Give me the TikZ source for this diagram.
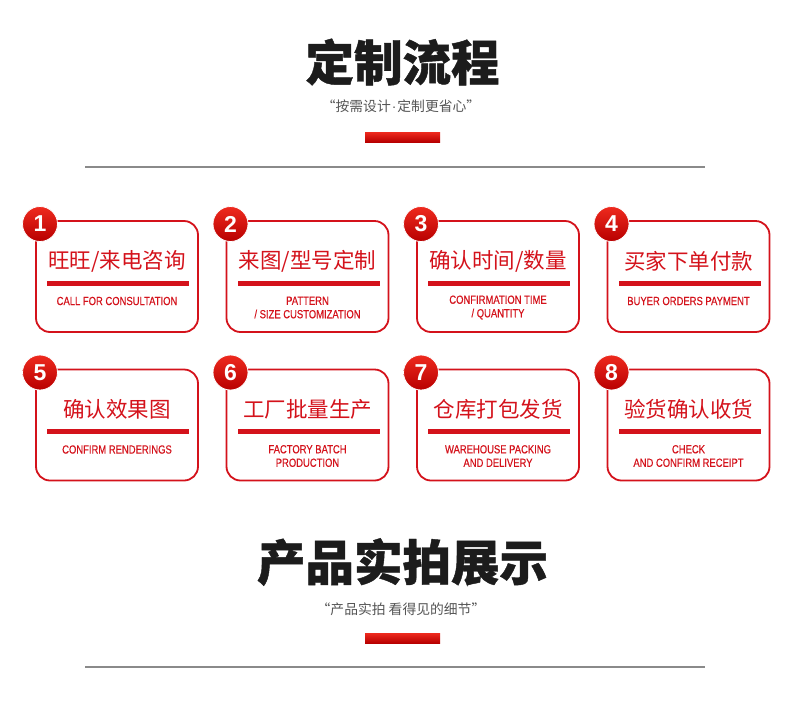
\documentclass[tikz,border=0pt]{standalone}
\usepackage{fontspec}
\newfontfamily\cjk{Noto Sans CJK SC}
\newfontfamily\cjkheavy[BoldFeatures={FakeBold=0.9}]{Noto Sans CJK SC}
\newfontfamily\enfont[FakeStretch=0.8,FakeBold=0.35]{Liberation Sans}
\newfontfamily\numfont{Liberation Sans}
\definecolor{cred}{HTML}{D4121B}
\definecolor{credlight}{HTML}{EE2A1E}
\definecolor{creddark}{HTML}{B80000}
\definecolor{titlegray}{HTML}{1C1C1C}
\definecolor{subgray}{HTML}{555555}
\definecolor{rulegray}{HTML}{8A8A8A}
\tikzset{
  bigtitle/.style={font=\cjkheavy\bfseries\fontsize{48.5}{48.5}\selectfont, text=titlegray, inner sep=0pt},
  subtitle/.style={font=\cjk\fontsize{13.8}{14}\selectfont, text=subgray, inner sep=0pt},
  gradbar/.style={rectangle, inner sep=0pt, minimum width=75, minimum height=10, top color=credlight, bottom color=creddark, draw=none},
  grayrule/.style={rectangle, inner sep=0pt, minimum width=620, minimum height=2, fill=rulegray, draw=none},
  cardbox/.style={rectangle, rounded corners=14, draw=cred, line width=1.8, fill=white, minimum width=162, minimum height=111, inner sep=0pt},
  numdisc/.style={circle, minimum size=35, inner sep=0pt, top color=credlight, bottom color=creddark, draw=white, line width=0.8, text=white, font=\numfont\bfseries\fontsize{23}{23}\selectfont},
  zhtext/.style={font=\cjk\fontsize{21.5}{22}\selectfont, text=cred, inner sep=0pt},
  redbar/.style={rectangle, inner sep=0pt, minimum width=142, minimum height=5, fill=cred, draw=none},
  entext/.style={font=\enfont\fontsize{11.8}{13.5}\selectfont, text=cred, inner sep=0pt, align=center},
}
\newcommand\flowcard[6]{%
  \node[cardbox] (card#1) at (#2,#3+55.5) {};
  \node[numdisc] (num#1) at (#2-77,#3+3) {#1};
  \node[zhtext] (zh#1) at (#2,#3+40) {#4};
  \node[redbar] (bar#1) at (#2+1,#3+62) {};
  \node[entext] (en#1) at (#2,#3+#6) {#5};
}
\begin{document}
\begin{tikzpicture}[x=1pt,y=-1pt]
\useasboundingbox[fill=white] (0,0) rectangle (790,702);
% top section
\node[bigtitle] (title1) at (402.5,62) {定制流程};
\node[subtitle] (sub1) at (401,106) {“按需设计{\numfont\kern1pt·\kern1pt}定制更省心”};
\node[gradbar] (gbar1) at (402.5,137) {};
\node[grayrule] (rule1) at (395,167) {};
% cards row 1
\flowcard{1}{117}{221}{旺旺/来电咨询}{CALL FOR CONSULTATION}{80}
\flowcard{2}{307.5}{221}{来图/型号定制}{PATTERN\\/ SIZE CUSTOMIZATION}{86.5}
\flowcard{3}{498}{221}{确认时间/数量}{CONFIRMATION TIME\\/ QUANTITY}{86.5}
\flowcard{4}{688.5}{221}{买家下单付款}{BUYER ORDERS PAYMENT}{80}
% cards row 2
\flowcard{5}{117}{369.5}{确认效果图}{CONFIRM RENDERINGS}{80}
\flowcard{6}{307.5}{369.5}{工厂批量生产}{FACTORY BATCH\\PRODUCTION}{86.5}
\flowcard{7}{498}{369.5}{仓库打包发货}{WAREHOUSE PACKING\\AND DELIVERY}{86.5}
\flowcard{8}{688.5}{369.5}{验货确认收货}{CHECK\\AND CONFIRM RECEIPT}{86.5}
% bottom section
\node[bigtitle] (title2) at (402.5,562) {产品实拍展示};
\node[subtitle] (sub2) at (401,609) {“产品实拍 看得见的细节”};
\node[gradbar] (gbar2) at (402.5,638) {};
\node[grayrule] (rule2) at (395,667) {};
\end{tikzpicture}
\end{document}
